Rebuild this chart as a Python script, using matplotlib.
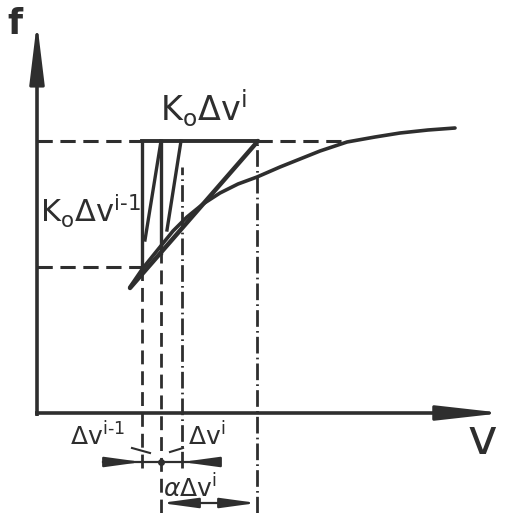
import matplotlib
matplotlib.use('Agg')
import matplotlib.pyplot as plt

plt.rcParams['mathtext.fontset'] = 'dejavusans'

INK = '#2e2e2e'

# values, origin at the axis crossing (units ~ pixels)
curve_v = [93, 106, 123, 136, 150, 166, 183, 201, 220, 243, 263, 283, 310, 338, 363, 391, 418]
curve_f = [126, 145, 166, 182, 196, 209, 220, 229, 236, 246, 254, 262, 271, 276, 280, 283, 285]

secant_v = [93, 221]
secant_f = [125, 272]

f_top = 272          # K0 dv^i level
f_low = 146          # K0 dv^(i-1) level
v_top_dash_end = 310

# zig-zag of the iteration
zig_v = [[105, 105], [108, 124], [124, 124], [130, 144]]
zig_f = [[143, 272], [173, 272], [272, 160], [183, 272]]

# guide lines: v, top f, bottom f, style
guide_v = [105, 124, 145, 220]
guide_top = [143, 160, 246, 272]
guide_bot = [-55, -100, -55, -100]
guide_dash = [[5, 2.5], [5, 2.5], [6, 1.5, 0.6, 1.5], [6, 1.5, 0.6, 1.5]]

axis_v_end = 466
axis_f_end = 391

dim1_f = -49
dim1_span = [66, 176]
dim2_f = -90

fig = plt.figure(figsize=(5.05, 5.13), dpi=100)
ax = fig.add_axes([0, 0, 1, 1])
ax.set_xlim(-37, 468)
ax.set_ylim(-100, 413)
ax.axis('off')

# axes with arrows
ax.plot([0, 0], [-3, axis_f_end - 40], color=INK, lw=2.6, solid_capstyle='butt')
ax.plot([-2, axis_v_end - 40], [0, 0], color=INK, lw=2.6, solid_capstyle='butt')
ax.annotate('', xy=(0, axis_f_end), xytext=(0, axis_f_end - 52),
            arrowprops=dict(arrowstyle='-|>,head_length=3.7,head_width=0.45',
                            color=INK, lw=2.2, shrinkA=0, shrinkB=0))
ax.annotate('', xy=(axis_v_end, 0), xytext=(axis_v_end - 58, 0),
            arrowprops=dict(arrowstyle='-|>,head_length=4.0,head_width=0.45',
                            color=INK, lw=2.2, shrinkA=0, shrinkB=0))

# horizontal levels
ax.plot([0, guide_v[0]], [f_top, f_top], color=INK, lw=2.2, dashes=[5, 2.5])
ax.plot([guide_v[0], guide_v[3]], [f_top, f_top], color=INK, lw=2.8)
ax.plot([guide_v[3], v_top_dash_end], [f_top, f_top], color=INK, lw=2.2, dashes=[5, 2.5])
ax.plot([0, guide_v[0]], [f_low, f_low], color=INK, lw=2.2, dashes=[5, 2.5])

# vertical guides
for v, ft, fb, d in zip(guide_v, guide_top, guide_bot, guide_dash):
    ax.plot([v, v], [fb, ft], color=INK, lw=2.0, dashes=d)

# curve and secant
ax.plot(curve_v, curve_f, color=INK, lw=2.6, solid_capstyle='round', solid_joinstyle='round')
ax.plot(secant_v, secant_f, color=INK, lw=3.2, solid_capstyle='round')

# zig-zag
for zv, zf in zip(zig_v, zig_f):
    ax.plot(zv, zf, color=INK, lw=2.4)

# dimension lines under the axis
ax.plot(dim1_span, [dim1_f, dim1_f], color=INK, lw=1.6)
ax.annotate('', xy=(guide_v[0], dim1_f), xytext=(guide_v[0] - 24, dim1_f),
            arrowprops=dict(arrowstyle='-|>,head_length=2.2,head_width=0.3',
                            color=INK, lw=1.6, shrinkA=0, shrinkB=0))
ax.annotate('', xy=(guide_v[2], dim1_f), xytext=(guide_v[2] + 26, dim1_f),
            arrowprops=dict(arrowstyle='-|>,head_length=2.2,head_width=0.3',
                            color=INK, lw=1.6, shrinkA=0, shrinkB=0))
ax.plot([guide_v[1]], [dim1_f], 'o', color=INK, ms=4)
ax.plot([95, 113], [-35, -40], color=INK, lw=1.5)
ax.plot([133, 146], [-39, -35], color=INK, lw=1.5)

ax.annotate('', xy=(guide_v[1], dim2_f), xytext=(guide_v[3], dim2_f),
            arrowprops=dict(arrowstyle='<|-|>,head_length=2.2,head_width=0.3',
                            color=INK, lw=1.6, shrinkA=0, shrinkB=0))

# labels
ax.text(-22, 389, 'f', fontsize=25, fontweight='semibold', color=INK, ha='center', va='center')
ax.text(445, -27, 'v', fontsize=36, color=INK, ha='center', va='center')
ax.text(123, 292, r'$\mathrm{K_o\Delta v^i}$', fontsize=24, color=INK, ha='left', va='baseline')
ax.text(3, 190, r'$\mathrm{K_o\Delta v^{i\text{-}1}}$', fontsize=22, color=INK,
        ha='left', va='baseline')
ax.text(33, -32, r'$\mathrm{\Delta v^{i\text{-}1}}$', fontsize=18, color=INK, ha='left', va='baseline')
ax.text(151, -32, r'$\mathrm{\Delta v^{i}}$', fontsize=18, color=INK, ha='left', va='baseline')
ax.text(126, -84, r'$\alpha\mathrm{\Delta v^{i}}$', fontsize=18, color=INK, ha='left', va='baseline')

fig.savefig('out.png', dpi=100, facecolor='white')
